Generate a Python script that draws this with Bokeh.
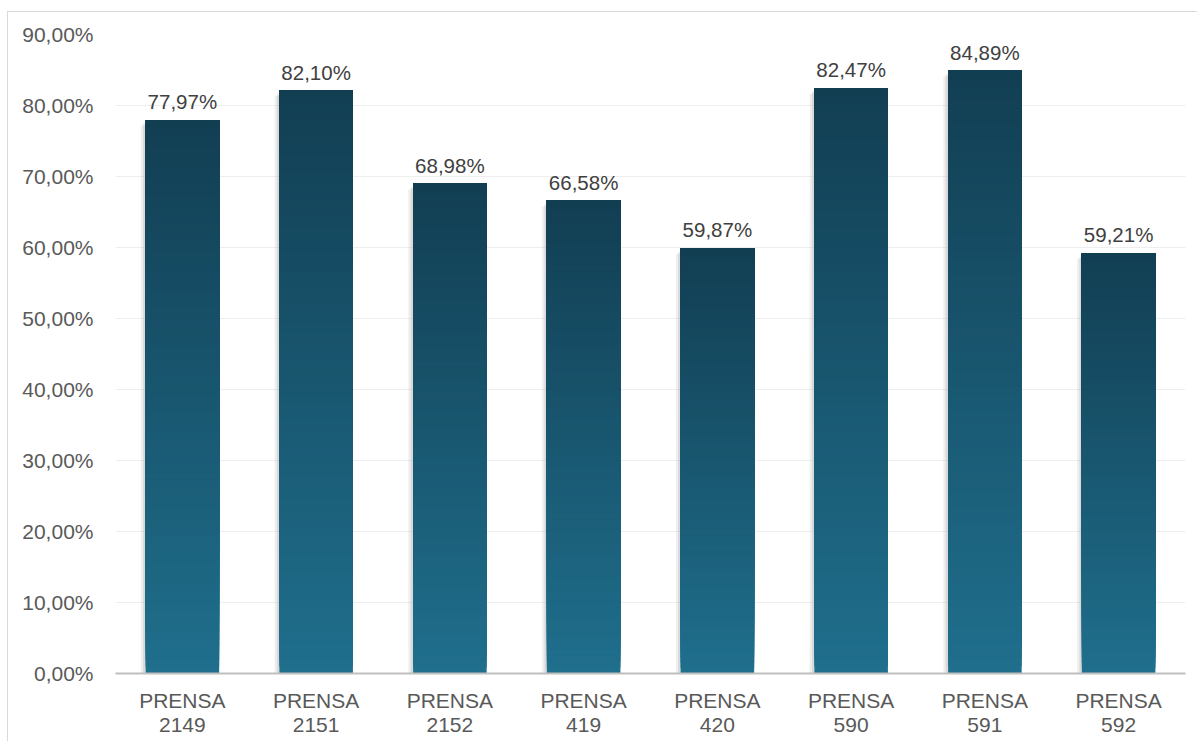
from bokeh.plotting import figure
from bokeh.models import ColumnDataSource, FixedTicker, Range1d
from bokeh.core.properties import value
from bokeh.embed import file_html
from bokeh.resources import INLINE

# ---- data ----
categories = ["PRENSA\n2149", "PRENSA\n2151", "PRENSA\n2152", "PRENSA\n419",
              "PRENSA\n420", "PRENSA\n590", "PRENSA\n591", "PRENSA\n592"]
values = [0.7797, 0.8210, 0.6898, 0.6658, 0.5987, 0.8247, 0.8489, 0.5921]
value_labels = ["77,97%", "82,10%", "68,98%", "66,58%", "59,87%", "82,47%", "84,89%", "59,21%"]
y_ticks = [0.0, 0.1, 0.2, 0.3, 0.4, 0.5, 0.6, 0.7, 0.8, 0.9]
y_tick_labels = ["0,00%", "10,00%", "20,00%", "30,00%", "40,00%", "50,00%",
                 "60,00%", "70,00%", "80,00%", "90,00%"]

FONT = "Liberation Sans"
BAR_W = 0.55
TOP_RGB = (18, 62, 82)
BOT_RGB = (31, 111, 141)
NSEG = 80

xs = list(range(len(categories)))

# gradient slices derived from the data values (each slice reaches the bar top,
# later slices painted over earlier ones -> no seams)
seg = dict(left=[], right=[], bottom=[], top=[], color=[])
for k in range(NSEG):
    t = (k + 0.5) / NSEG
    r = round(BOT_RGB[0] + (TOP_RGB[0] - BOT_RGB[0]) * t)
    g = round(BOT_RGB[1] + (TOP_RGB[1] - BOT_RGB[1]) * t)
    b = round(BOT_RGB[2] + (TOP_RGB[2] - BOT_RGB[2]) * t)
    for x, v in zip(xs, values):
        seg["left"].append(x - BAR_W / 2)
        seg["right"].append(x + BAR_W / 2)
        seg["bottom"].append(v * k / NSEG)
        seg["top"].append(v)
        seg["color"].append("#%02x%02x%02x" % (r, g, b))

p = figure(width=1190, height=730, output_backend="svg", toolbar_location=None,
           x_range=Range1d(-0.5, len(categories) - 0.5), y_range=Range1d(0, 0.9),
           min_border_left=107, min_border_right=13, min_border_top=22,
           min_border_bottom=69)
p.margin = (11, 0, 0, 7)
p.styles = {"border-left": "1px solid #d9d9d9", "border-top": "1px solid #d9d9d9"}
p.outline_line_color = None
p.background_fill_color = "white"
p.border_fill_color = "white"

# soft shadow on the left side of each bar
shadow = ColumnDataSource(dict(left=[x - BAR_W / 2 - 0.035 for x in xs],
                               right=[x - BAR_W / 2 for x in xs],
                               top=[v - 0.008 for v in values],
                               bottom=[0 for _ in values]))
p.quad(left="left", right="right", top="top", bottom="bottom", source=shadow,
       fill_color="#bdbdbd", fill_alpha=0.25, line_color=None)
shadow2 = ColumnDataSource(dict(left=[x - BAR_W / 2 - 0.018 for x in xs],
                                right=[x - BAR_W / 2 for x in xs],
                                top=[v - 0.005 for v in values],
                                bottom=[0 for _ in values]))
p.quad(left="left", right="right", top="top", bottom="bottom", source=shadow2,
       fill_color="#9a9a9a", fill_alpha=0.25, line_color=None)

p.quad(left="left", right="right", top="top", bottom="bottom",
       source=ColumnDataSource(seg), fill_color="color", line_color=None)

lab = ColumnDataSource(dict(x=xs, y=values, t=value_labels))
p.text(x="x", y="y", text="t", source=lab, text_align="center",
       text_baseline="bottom", y_offset=-7, text_font=value(FONT),
       text_font_size="20.5px", text_color="#404040")

# axes
p.yaxis.ticker = FixedTicker(ticks=y_ticks)
p.yaxis.major_label_overrides = {t: l for t, l in zip(y_ticks, y_tick_labels)}
p.yaxis.axis_line_color = None
p.yaxis.major_tick_line_color = None
p.yaxis.minor_tick_line_color = None
p.yaxis.major_label_text_font = FONT
p.yaxis.major_label_text_font_size = "21px"
p.yaxis.major_label_text_color = "#595959"
p.yaxis.major_label_standoff = 16

p.xaxis.ticker = FixedTicker(ticks=xs)
p.xaxis.major_label_overrides = {x: c for x, c in zip(xs, categories)}
p.xaxis.axis_line_color = "#bfbfbf"
p.xaxis.axis_line_width = 2
p.xaxis.major_tick_line_color = None
p.xaxis.minor_tick_line_color = None
p.xaxis.major_label_text_font = FONT
p.xaxis.major_label_text_font_size = "21px"
p.xaxis.major_label_text_color = "#595959"
p.xaxis.major_label_text_line_height = 1.05
p.xaxis.major_label_standoff = 9

p.xgrid.grid_line_color = None
p.ygrid.grid_line_color = "#eeeeee"
p.ygrid.grid_line_width = 1

open("out.html", "w").write(file_html(p, INLINE))
